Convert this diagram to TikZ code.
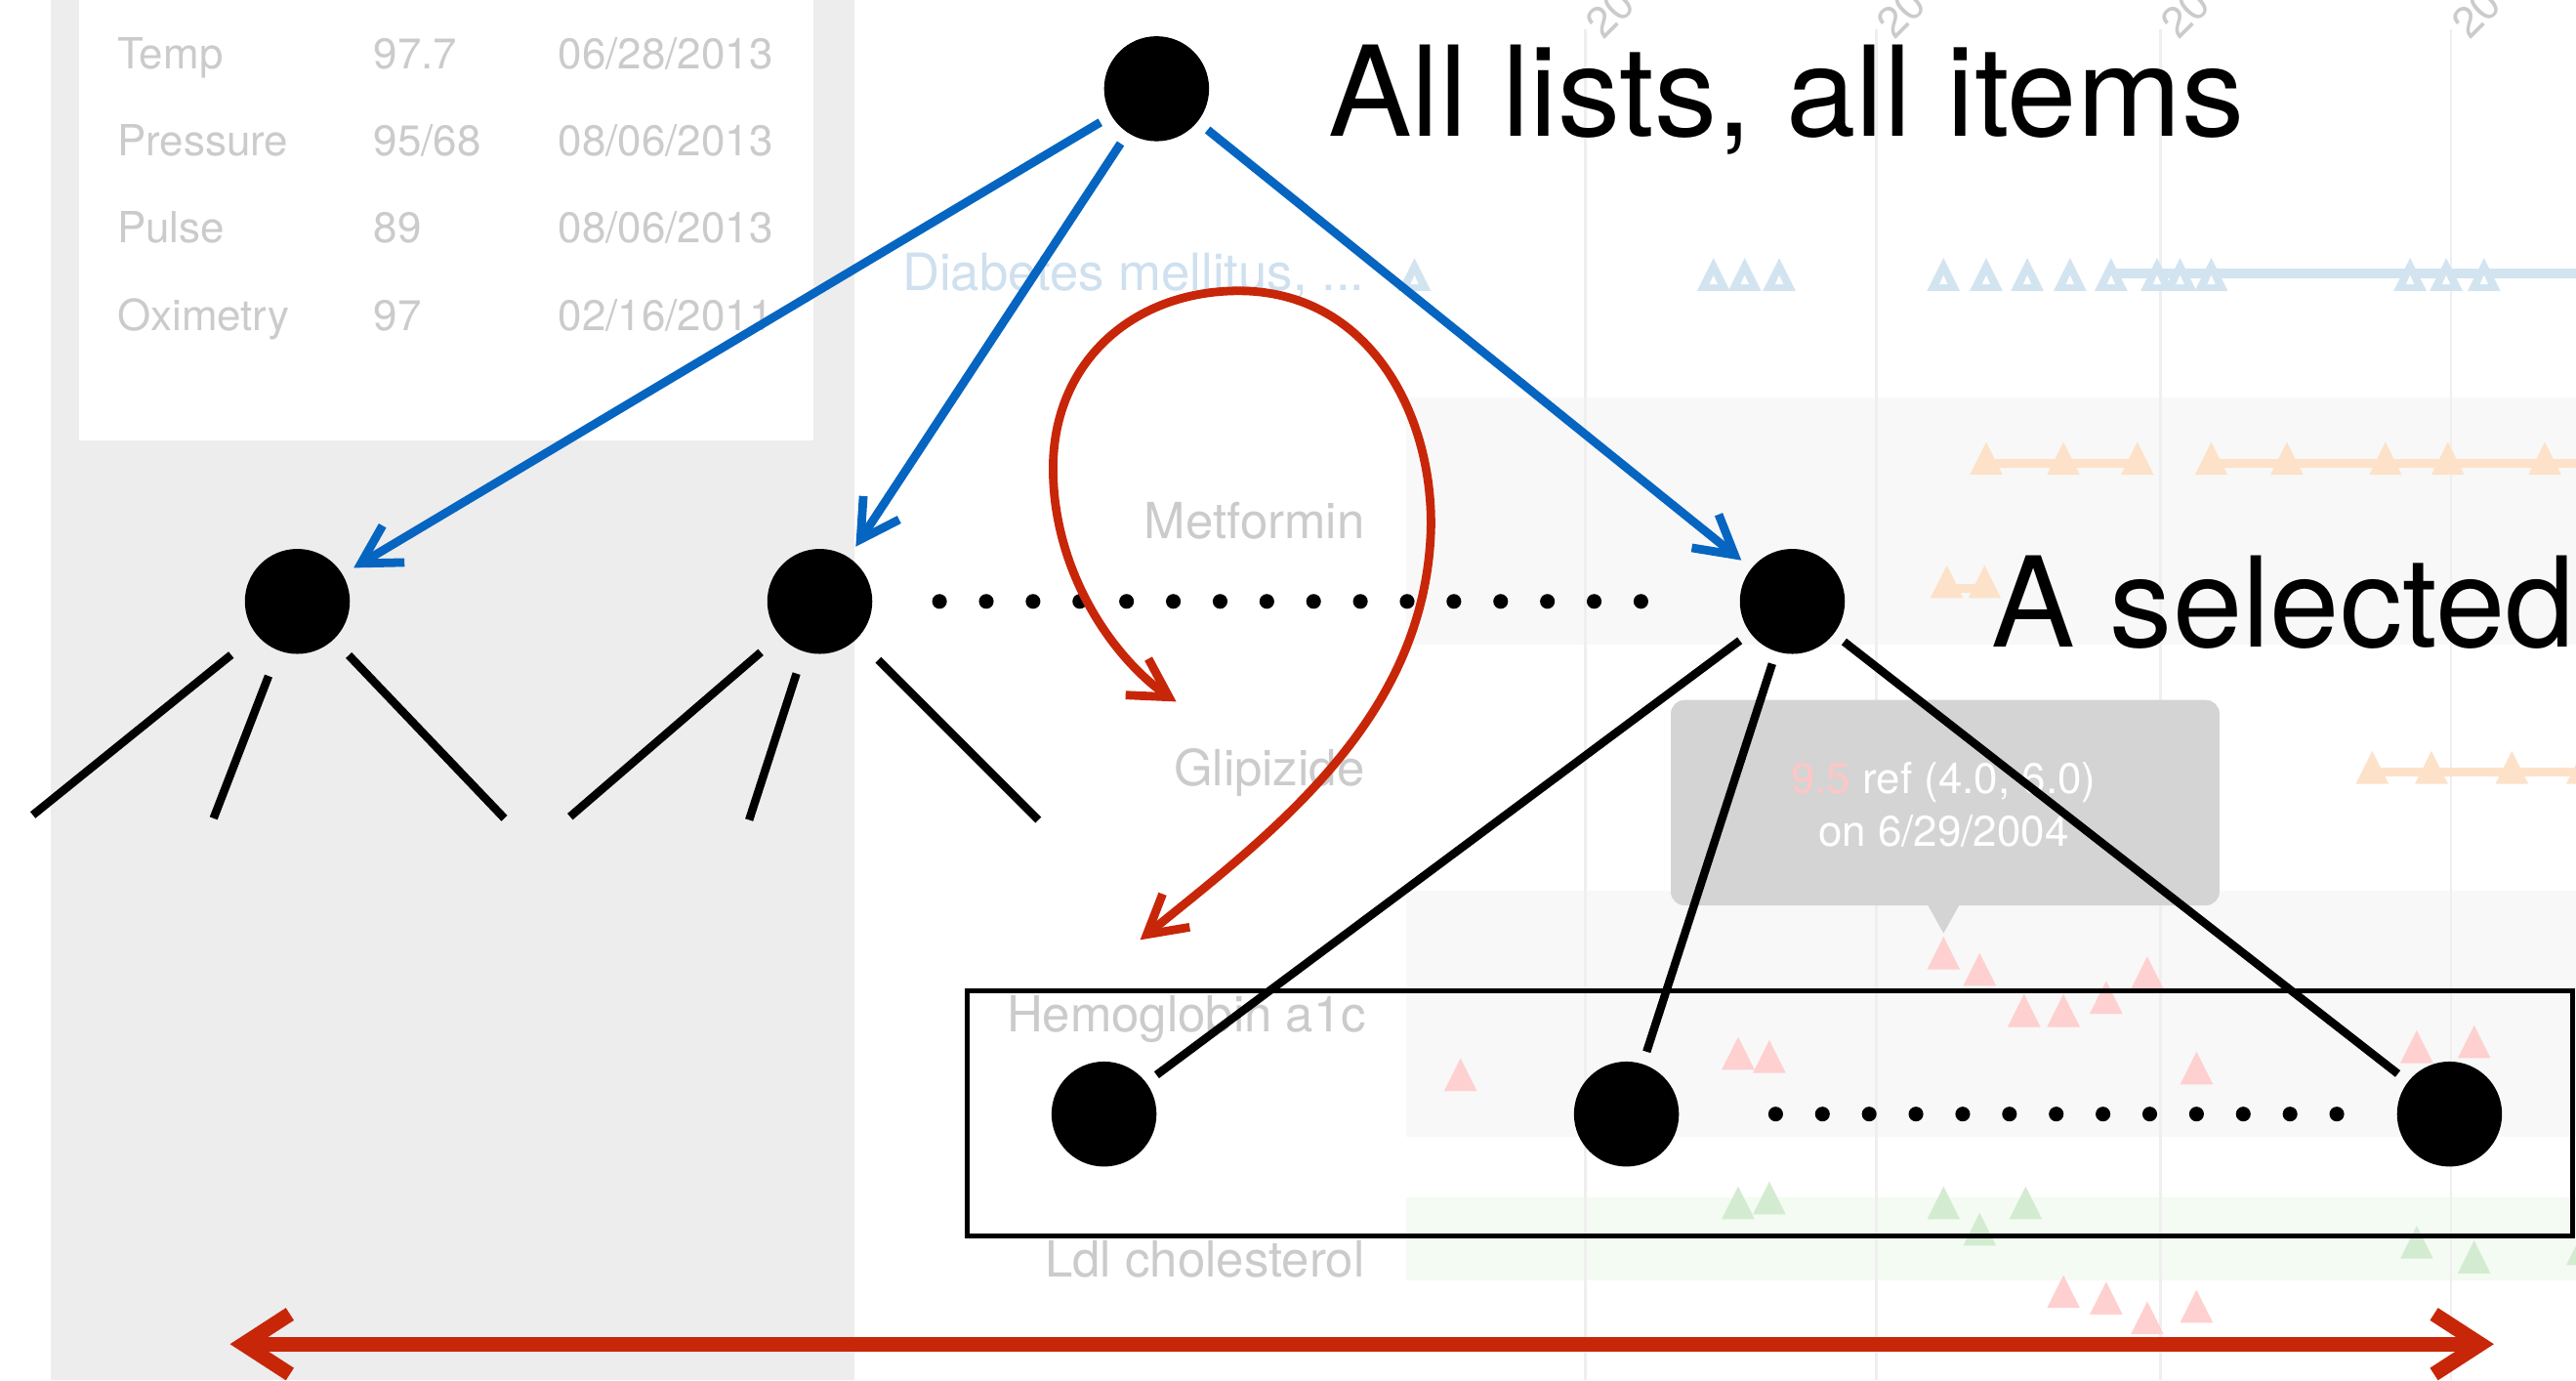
\documentclass[tikz,border=0pt]{standalone}
\usepackage{fontspec}
\setmainfont{TeX Gyre Heros}
\usetikzlibrary{arrows.meta,bending}
\definecolor{myblue}{HTML}{0565C1}
\definecolor{myred}{HTML}{C82608}
\definecolor{panelgrey}{HTML}{EDEDED}
\definecolor{ghost}{HTML}{CBCBCB}
\definecolor{gridc}{HTML}{EFEFEF}
\definecolor{bandc}{HTML}{F8F8F8}
\definecolor{gbandc}{HTML}{F4FBF2}
\definecolor{tblue}{HTML}{D3E4F1}
\definecolor{torange}{HTML}{FDE2C9}
\definecolor{tpink}{HTML}{FFD0D0}
\definecolor{tgreen}{HTML}{D3ECD1}
\definecolor{tipgrey}{HTML}{D4D4D4}
\definecolor{tipred}{HTML}{FFC6C6}
\definecolor{lblue}{HTML}{CFE0EF}
\newcommand\mytri[3]{\fill[#1] ({#2-10},#3) -- (#2,{#3-20}) -- ({#2+10},#3) -- cycle;}
\newcommand\mybtri[1]{\fill[tblue] ({#1-10},177) -- (#1,157) -- ({#1+10},177) -- cycle;
  \fill[white] ({#1-2.5},173) -- (#1,167.5) -- ({#1+2.5},173) -- cycle;}
\begin{document}
\begin{tikzpicture}[x=0.016824cm, y=-0.016824cm,
  tbl/.style={text=ghost, inner sep=0pt, anchor=base west, font=\fontsize{12.5}{15}\selectfont},
  yr/.style={text=ghost, inner sep=0pt, anchor=base west, rotate=45, font=\fontsize{12.5}{15}\selectfont},
  rowlab/.style={text=ghost, inner sep=0pt, anchor=base east, font=\fontsize{14.5}{17}\selectfont},
  tiptext/.style={text=white, inner sep=0pt, anchor=base, font=\fontsize{12.5}{15}\selectfont},
  biglab/.style={text=black, inner sep=0pt, anchor=base west, font=\fontsize{36.5}{40}\selectfont},
  blackdot/.style={circle, fill=black, inner sep=0pt, outer sep=0pt, minimum size=30.6pt},
  bluearr/.style={draw=myblue, line width=2.5pt, -{Straight Barb[length=11pt,width=12.5pt]}, shorten <=3.8pt, shorten >=3.8pt},
  link/.style={draw=black, line width=2.4pt, shorten <=3.8pt, shorten >=3.8pt},
  stub/.style={draw=black, line width=2.4pt},
  dotrow/.style={draw=black, line width=4.3pt, line cap=round, dash pattern=on 0pt off 13.63pt},
  redarr/.style={draw=myred, line width=2.5pt, {Straight Barb[length=11pt,width=12.5pt]}-{Straight Barb[length=11pt,width=12.5pt]}},
  bigred/.style={draw=myred, line width=4.3pt, {Straight Barb[length=13.5pt,width=17.5pt]}-{Straight Barb[length=13.5pt,width=17.5pt]}},
  selbox/.style={draw=black, line width=1.4pt}
]
\useasboundingbox (0,0) rectangle (1568,840);
\clip (0,0) rectangle (1568,840);
\fill[white] (0,0) rectangle (1568,840);

% ---------- faded screenshot background ----------
\fill[panelgrey] (31,0) rectangle (520,840);
\fill[white] (48,0) rectangle (495,268);
\node[tbl] (ta1) at (71,41.6) {Temp};
\node[tbl] (tb1) at (227,41.6) {97.7};
\node[tbl] (tc1) at (339.5,41.6) {06/28/2013};
\node[tbl] (ta2) at (71,95) {Pressure};
\node[tbl] (tb2) at (227,95) {95/68};
\node[tbl] (tc2) at (339.5,95) {08/06/2013};
\node[tbl] (ta3) at (71,147.6) {Pulse};
\node[tbl] (tb3) at (227,147.6) {89};
\node[tbl] (tc3) at (339.5,147.6) {08/06/2013};
\node[tbl] (ta4) at (71,201) {Oximetry};
\node[tbl] (tb4) at (227,201) {97};
\node[tbl] (tc4) at (339.5,201) {02/16/2011};

% bands
\fill[bandc] (856,242) rectangle (1568,392);
\fill[bandc] (856,542) rectangle (1568,692);
\fill[gbandc] (856,729) rectangle (1568,779);

% grid lines
\foreach \gx in {965,1142,1315,1492} {\draw[gridc, line width=0.7pt] (\gx,18) -- (\gx,840);}
\node[yr] (yr1) at (976,25) {20};
\node[yr] (yr2) at (1153,25) {20};
\node[yr] (yr3) at (1326,25) {20};
\node[yr] (yr4) at (1503,25) {20};

% row labels
\node[rowlab, text=lblue, font=\fontsize{15}{17}\selectfont] (rl1) at (831,177) {Diabetes mellitus, ...};
\node[rowlab] (rl2) at (831,328) {Metformin};
\node[rowlab] (rl3) at (831,478) {Glipizide};
\node[rowlab] (rl4) at (832,628) {Hemoglobin a1c};
\node[rowlab] (rl5) at (831,777) {Ldl cholesterol};

% blue events
\draw[tblue, line width=2.8pt] (1285,166.5) -- (1568,166.5);
\foreach \bx in {861,1043,1062,1083,1183,1209,1234,1260,1285,1313,1327,1346,1467,1489,1512} {\mybtri{\bx}}

% orange events
\draw[torange, line width=2.5pt] (1209,282) -- (1301,282);
\draw[torange, line width=2.5pt] (1346,282) -- (1568,282);
\foreach \ox in {1209,1256,1301,1346,1392,1452,1490,1549} {\mytri{torange}{\ox}{289}}
\draw[torange, line width=2.5pt] (1185,358) -- (1208,358);
\mytri{torange}{1185}{364}
\mytri{torange}{1208}{364}
\draw[torange, line width=2.5pt] (1444,470) -- (1568,470);
\foreach \ox in {1444,1480,1529,1572} {\mytri{torange}{\ox}{477}}

% pink events
\foreach \px/\py in {1183/590,1205/600,1232/625,1256/625,1282/617,1307/602,889/664,1058/651,1077/653,1337/660,1471/647,1506/644,1256/796,1282/800,1307/812,1337/805} {\mytri{tpink}{\px}{\py}}
% green events
\foreach \qx/\qy in {1058/742,1077/739,1183/742,1205/758,1233/742,1471/766,1506/775,1572/770} {\mytri{tgreen}{\qx}{\qy}}

% tooltip
\fill[tipgrey, rounded corners=4pt] (1017,426) rectangle (1351,551);
\fill[tipgrey] (1173,550) -- (1183,568) -- (1193,550) -- cycle;
\node[tiptext] (tt1) at (1183,483) {\textcolor{tipred}{9.5} ref (4.0, 6.0)};
\node[tiptext] (tt2) at (1183,515) {on 6/29/2004};

% ---------- diagram ----------
\node[blackdot] (root) at (704,54) {};
\node[blackdot] (c1) at (181,366) {};
\node[blackdot] (c2) at (499,366) {};
\node[blackdot] (c3) at (1091,366) {};
\node[blackdot] (g1) at (672,678) {};
\node[blackdot] (g2) at (990,678) {};
\node[blackdot] (g3) at (1491,678) {};

\node[biglab] (lab1) at (808,83) {All lists, all items};
\node[biglab] (lab2) at (1212,394) {A selected};

\draw[bluearr] (root) -- (c1);
\draw[bluearr] (root) -- (c2);
\draw[bluearr] (root) -- (c3);

\coordinate (s11) at (20,496);
\coordinate (s12) at (130,498);
\coordinate (s13) at (307,498);
\coordinate (s21) at (347,497);
\coordinate (s22) at (456,499);
\coordinate (s23) at (632,499);
\draw[stub, shorten <=9.5pt] (c1) -- (s11);
\draw[stub, shorten <=8pt] (c1) -- (s12);
\draw[stub, shorten <=6.4pt] (c1) -- (s13);
\draw[stub, shorten <=7.4pt] (c2) -- (s21);
\draw[stub, shorten <=6.8pt] (c2) -- (s22);
\draw[stub, shorten <=8.8pt] (c2) -- (s23);

\draw[dotrow, shorten <=19.6pt, shorten >=27.9pt] (c2) -- (c3);

\draw[link] (c3) -- (g1);
\draw[link] (c3) -- (g2);
\draw[link] (c3) -- (g3);

\draw[dotrow, shorten <=28.2pt, shorten >=16.7pt] (g2) -- (g3);

\draw[selbox] (589,603) rectangle (1566,752);

% red curved arrow
\coordinate (ra) at (716,427);
\coordinate (rb) at (694,572);
\draw[redarr] (ra) .. controls (680,405) and (641,350) .. (641,285)
  .. controls (641,220) and (690,177) .. (754,177)
  .. controls (832,177) and (872,250) .. (871,321)
  .. controls (868,440) and (770,510) .. (rb);

% bottom red arrow
\coordinate (bl) at (140,818);
\coordinate (br) at (1518,818);
\draw[bigred] (bl) -- (br);
\end{tikzpicture}
\end{document}
